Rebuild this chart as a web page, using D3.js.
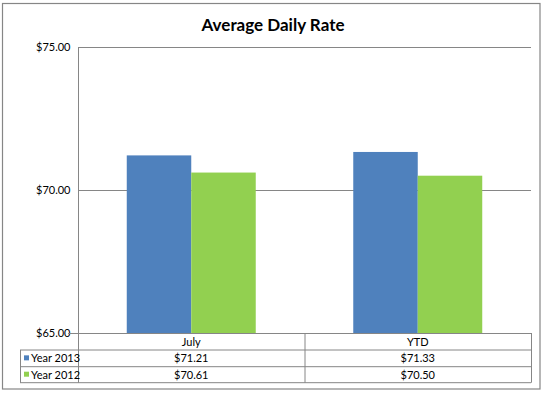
<!DOCTYPE html>
<html><head><meta charset="utf-8">
<script src="https://cdn.jsdelivr.net/npm/d3@7"></script>
<style>body{margin:0;background:#fff}svg{display:block}text{font-family:Lato,"Open Sans",sans-serif;fill:#000}</style>
</head><body><svg id="c" width="546" height="393"></svg>
<script>
const categories = ["July", "YTD"];
const seriesNames = ["Year 2013", "Year 2012"];
const year2013 = [71.21, 71.33];
const year2012 = [70.61, 70.50];
const yTicks = [65, 70, 75];
const colors = ["#4F81BD", "#92D050"];
const title = "Average Daily Rate";

const values = [year2013, year2012];
const svg = d3.select("#c");
const grid = "#868686";
const L = 78, R = 531, T = 47, B = 333;
const rows = [333, 350, 366.7, 382.7];
const legendLeft = 20;

svg.append("rect").attr("x", 2.5).attr("y", 3.5).attr("width", 537.5).attr("height", 385.5)
  .attr("fill", "#fff").attr("stroke", grid).attr("stroke-width", 1.2);

svg.append("text").attr("x", 273).attr("y", 31).attr("text-anchor", "middle")
  .style("font-size", "17px").style("font-weight", "bold").text(title);

const y = d3.scaleLinear().domain([65, 75]).range([B, T]);
const x0 = d3.scaleBand().domain(categories).range([L, R]);
const x1 = d3.scaleBand().domain(seriesNames).range([0, x0.bandwidth()]).paddingInner(0).paddingOuter(0.756);

// gridlines
svg.append("g").selectAll("line").data(yTicks.filter(d => d !== 65)).join("line")
  .attr("x1", L).attr("x2", R).attr("y1", d => Math.round(y(d)) + 0.5).attr("y2", d => Math.round(y(d)) + 0.5)
  .attr("stroke", grid);

// bars
seriesNames.forEach((s, si) => {
  svg.append("g").selectAll("rect").data(categories).join("rect")
    .attr("x", c => x0(c) + x1(s)).attr("width", x1.bandwidth())
    .attr("y", (c, i) => y(values[si][i])).attr("height", (c, i) => B - y(values[si][i]))
    .attr("fill", colors[si]);
});

// y axis
const yAxis = d3.axisLeft(y).tickValues(yTicks).tickFormat(d3.format("$.2f")).tickSize(0).tickPadding(8);
const ya = svg.append("g").attr("transform", `translate(${L + 0.5},0)`).call(yAxis);
ya.select(".domain").remove();
ya.selectAll("text").style("font-size", "11px").style("font-family", "Lato,sans-serif").attr("fill", "#000");

svg.append("line").attr("x1", L + 0.5).attr("x2", L + 0.5).attr("y1", T).attr("y2", rows[3]).attr("stroke", grid);

// table lines
svg.append("line").attr("x1", 68).attr("x2", R).attr("y1", rows[0] + 0.5).attr("y2", rows[0] + 0.5).attr("stroke", grid);
rows.slice(1).forEach(r => svg.append("line").attr("x1", legendLeft).attr("x2", R).attr("y1", r).attr("y2", r).attr("stroke", grid));
[R].concat(categories.slice(1).map(c => x0(c))).forEach(xx => svg.append("line").attr("x1", xx + 0.5).attr("x2", xx + 0.5).attr("y1", rows[0]).attr("y2", rows[3]).attr("stroke", grid));
svg.append("line").attr("x1", legendLeft + 0.5).attr("x2", legendLeft + 0.5).attr("y1", rows[1]).attr("y2", rows[3]).attr("stroke", grid);

// table texts
const fmt = d3.format("$.2f");
svg.append("g").selectAll("text").data(categories).join("text")
  .attr("x", c => x0(c) + x0.bandwidth() / 2).attr("y", (rows[0] + rows[1]) / 2 + 4)
  .attr("text-anchor", "middle").style("font-size", "11px").text(c => c);
seriesNames.forEach((s, si) => {
  const cy = (rows[si + 1] + rows[si + 2]) / 2;
  svg.append("g").selectAll("text").data(categories).join("text")
    .attr("x", c => x0(c) + x0.bandwidth() / 2).attr("y", cy + 4)
    .attr("text-anchor", "middle").style("font-size", "11px").text((c, i) => fmt(values[si][i]));
  svg.append("rect").attr("x", 24).attr("y", cy - 3).attr("width", 5).attr("height", 5).attr("fill", colors[si]);
  svg.append("text").attr("x", 31).attr("y", cy + 4).style("font-size", "11px").text(s);
});
</script></body></html>
